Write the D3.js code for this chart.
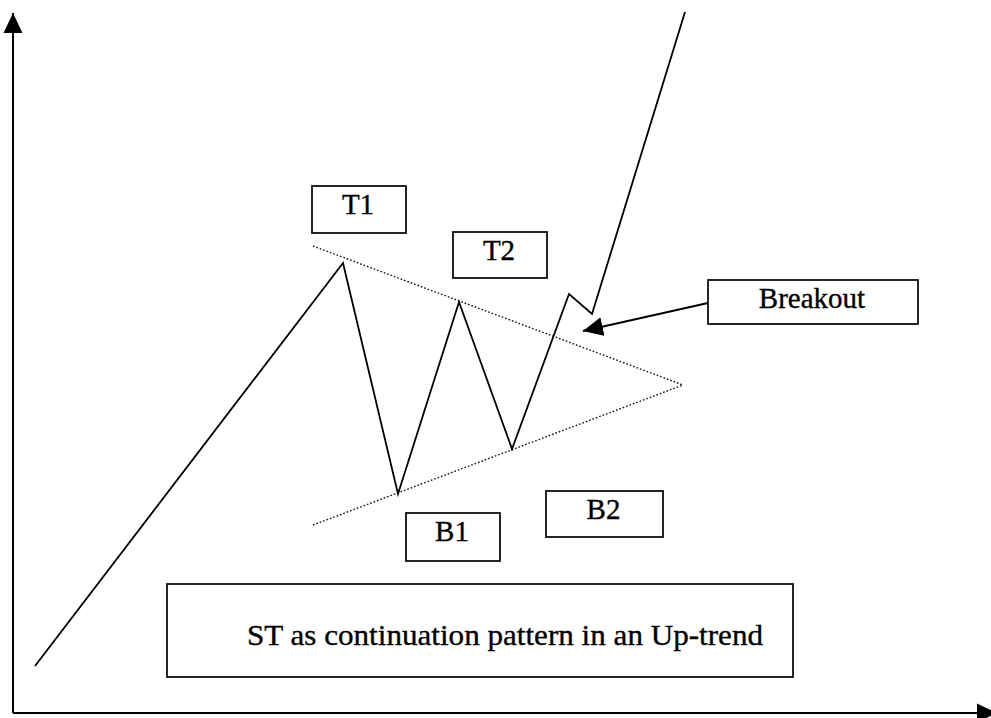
<!DOCTYPE html>
<html>
<head>
<meta charset="utf-8">
<script src="https://cdn.jsdelivr.net/npm/d3@7"></script>
<style>
    body { margin: 0; background: #fff; }
    svg { display: block; }
    .price { fill: none; stroke: #000; stroke-width: 1.8; stroke-linejoin: miter; }
    .trend { stroke: #111; stroke-width: 1.4; stroke-dasharray: 1.6,2; }
    .box { fill: #fff; stroke: #000; stroke-width: 1.7; }
    .label { font-family: "Liberation Serif", "Times New Roman", serif; font-size: 29px; fill: #000; stroke: #000; stroke-width: 0.35; }
    .axis path { stroke: #000; stroke-width: 2; }
</style>
</head>
<body>
<svg id="chart" width="991" height="718"></svg>
<script>

// price path, in chart units (x to the right, y up from the axis corner)
var priceX = [22, 330, 385, 446, 499, 556, 579, 672];
var priceY = [47, 450, 219, 411, 264, 419, 399, 701];

// triangle trend lines: [x1, y1, x2, y2]
var trendNames = ["upper", "lower"];
var trendLines = [[300, 467, 670, 328], [300, 188, 670, 328]];

// label boxes: [left, top, right, bottom]
var boxNames = ["T1", "T2", "Breakout", "B1", "B2"];
var boxRects = [
    [299, 527, 393, 480],
    [440, 481, 534, 435],
    [695, 433, 905, 389],
    [393, 200, 487, 152],
    [533, 222, 650, 176]
];

// breakout pointer: from box edge to the breakout point
var pointer = [695, 410, 570, 382];

var caption = "ST as continuation pattern in an Up-trend";
var captionRect = [154, 129, 780, 36];

var svg = d3.select("#chart");
var width = 991, height = 718;

var x = d3.scaleLinear().domain([0, 978]).range([13, 991]);
var y = d3.scaleLinear().domain([0, 700]).range([713, 13]);

var defs = svg.append("defs");
defs.append("marker")
    .attr("id", "head")
    .attr("markerUnits", "userSpaceOnUse")
    .attr("viewBox", "0 -10 20 20")
    .attr("refX", 20).attr("refY", 0)
    .attr("markerWidth", 20).attr("markerHeight", 20)
    .attr("orient", "auto")
    .append("path")
    .attr("d", "M0,-9.5L20,0L0,9.5Z")
    .attr("fill", "#000");

// axes drawn as bare domain lines with arrow heads
var xAxis = d3.axisBottom(x).ticks(0).tickSizeOuter(0);
var yAxis = d3.axisLeft(y).ticks(0).tickSizeOuter(0);

svg.append("g")
    .attr("class", "axis")
    .attr("transform", "translate(0," + y(0) + ")")
    .call(xAxis)
    .select(".domain")
    .attr("d", "M" + x(0) + ",0H" + (x(978) + 6))
    .attr("marker-end", "url(#head)");

svg.append("g")
    .attr("class", "axis")
    .attr("transform", "translate(" + x(0) + ",0)")
    .call(yAxis)
    .select(".domain")
    .attr("d", "M0," + y(0) + "V" + y(700))
    .attr("marker-end", "url(#head)");

// dotted triangle
svg.selectAll(".trend")
    .data(trendLines)
    .enter()
    .append("line")
    .attr("class", "trend")
    .attr("x1", function(d){ return x(d[0]); })
    .attr("y1", function(d){ return y(d[1]); })
    .attr("x2", function(d){ return x(d[2]); })
    .attr("y2", function(d){ return y(d[3]); });

// price line
var line = d3.line()
    .x(function(d){ return x(d[0]); })
    .y(function(d){ return y(d[1]); });

svg.append("path")
    .datum(d3.zip(priceX, priceY))
    .attr("class", "price")
    .attr("d", line);

// breakout arrow
svg.append("line")
    .attr("x1", x(pointer[0])).attr("y1", y(pointer[1]))
    .attr("x2", x(pointer[2])).attr("y2", y(pointer[3]))
    .attr("stroke", "#000")
    .attr("stroke-width", 1.8)
    .attr("marker-end", "url(#head)");

// boxes with labels
var boxes = svg.selectAll(".lbl")
    .data(boxRects)
    .enter()
    .append("g")
    .attr("class", "lbl");

boxes.append("rect")
    .attr("class", "box")
    .attr("x", function(d){ return x(d[0]); })
    .attr("y", function(d){ return y(d[1]); })
    .attr("width", function(d){ return x(d[2]) - x(d[0]); })
    .attr("height", function(d){ return y(d[3]) - y(d[1]); });

boxes.append("text")
    .attr("class", "label")
    .attr("text-anchor", "middle")
    .attr("x", function(d){ return (x(d[0]) + x(d[2])) / 2 - 1; })
    .attr("y", function(d){ return y(d[1]) + 28; })
    .text(function(d, i){ return boxNames[i]; });

// caption box
svg.append("rect")
    .attr("class", "box")
    .attr("x", x(captionRect[0]))
    .attr("y", y(captionRect[1]))
    .attr("width", x(captionRect[2]) - x(captionRect[0]))
    .attr("height", y(captionRect[3]) - y(captionRect[1]));

svg.append("text")
    .attr("class", "label")
    .attr("x", x(captionRect[0]) + 80)
    .attr("y", y(captionRect[1]) + 61)
    .attr("textLength", 516)
    .attr("lengthAdjust", "spacingAndGlyphs")
    .style("font-size", "30px")
    .text(caption);

</script>
</body>
</html>
